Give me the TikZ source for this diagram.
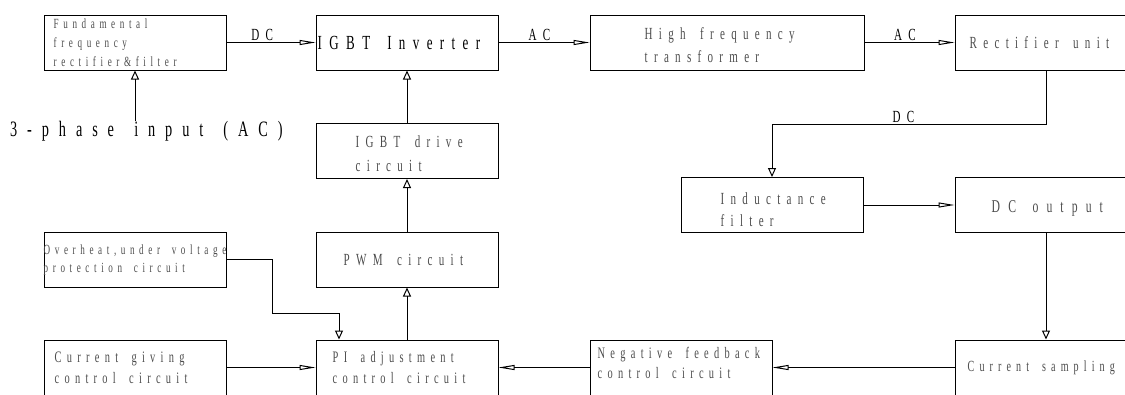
\documentclass[tikz,border=0pt]{standalone}
\usepackage{fontspec}
\newfontfamily\cadfont[FakeStretch=0.65,LetterSpace=33,WordSpace=1.7]{Liberation Serif}
\newfontfamily\cadwide[FakeStretch=0.65,LetterSpace=37,WordSpace=1.6]{Liberation Serif}
\newfontfamily\cadxwide[FakeStretch=0.65,LetterSpace=45,WordSpace=1.5]{Liberation Serif}
\usetikzlibrary{positioning, arrows.meta}
\newcommand{\cadsz}[3][\cadfont]{#1\fontsize{#2}{#3}\selectfont}

\tikzset{
  blk/.style={draw, line width=1pt, minimum width=182pt, minimum height=55pt, inner sep=0pt},
  txt/.style={anchor=west, inner sep=0pt, align=left, text=black!70},
  lbl/.style={above, inner sep=1pt, font={\cadsz[\cadwide]{17}{20}}},
  harr/.style={line width=1pt, -{Triangle[open, length=16pt, width=5pt]}},
  varr/.style={line width=1pt, -{Triangle[open, length=9pt, width=8pt]}},
  wire/.style={line width=1pt}
}

\begin{document}
\begin{tikzpicture}[x=1pt, y=-1pt]
	
	\useasboundingbox (0,0) rectangle (1125,394);
	\clip (0,0) rectangle (1125,394);
	
	% Boxes
	\node[blk] (fund) at (135,42.5) {};
	\node[blk] (inv) at (407,42.5) {};
	\node[blk, minimum width=274pt] (hft) at (727,42.5) {};
	\node[blk] (rect) at (1046,42.5) {};
	\node[blk] (drv) at (407,151) {};
	\node[blk] (ind) at (772,205) {};
	\node[blk] (dco) at (1046,205) {};
	\node[blk] (ovh) at (135,259.5) {};
	\node[blk] (pwm) at (407,259.5) {};
	\node[blk] (cgc) at (135,367.5) {};
	\node[blk] (pi) at (407,367.5) {};
	\node[blk] (nfb) at (681,367.5) {};
	\node[blk] (cs) at (1046,367.5) {};
	
	% Texts in boxes
	\node[txt, font={\cadsz{14}{19}}, xshift=10] (fund-t) at (fund.west) {Fundamental\\frequency\\rectifier\&filter};
	\node[txt, font={\cadsz[\cadwide]{20}{24}}, xshift=2, text=black] (inv-t) at (inv.west) {IGBT Inverter};
	\node[txt, font={\cadsz[\cadwide]{17}{23}}, xshift=55, yshift=-3] (hft-t) at (hft.west) {High frequency\\transformer};
	\node[txt, font={\cadsz[\cadwide]{17}{22}}, xshift=15] (rect-t) at (rect.west) {Rectifier unit};
	\node[txt, font={\cadsz[\cadwide]{17}{24}}, xshift=40, yshift=-3] (drv-t) at (drv.west) {IGBT drive\\circuit};
	\node[txt, font={\cadsz[\cadwide]{17}{22}}, xshift=40, yshift=-5] (ind-t) at (ind.west) {Inductance\\filter};
	\node[txt, font={\cadsz[\cadxwide]{18}{22}}, xshift=37, yshift=-3] (dco-t) at (dco.west) {DC output};
	\node[txt, font={\cadsz{14}{18}}, xshift=0, yshift=-1] (ovh-t) at (ovh.west) {Overheat,under voltage\\protection circuit};
	\node[txt, font={\cadsz[\cadwide]{17}{22}}, xshift=28] (pwm-t) at (pwm.west) {PWM circuit};
	\node[txt, font={\cadsz{16}{21}}, xshift=11] (cgc-t) at (cgc.west) {Current giving\\control circuit};
	\node[txt, font={\cadsz{16}{21}}, xshift=17] (pi-t) at (pi.west) {PI adjustment\\control circuit};
	\node[txt, font={\cadsz{16}{20}}, xshift=8, yshift=5] (nfb-t) at (nfb.west) {Negative feedback\\control circuit};
	\node[txt, font={\cadsz{15.5}{22}}, xshift=13] (cs-t) at (cs.west) {Current sampling};
	
	% Input
	\node[txt, font={\cadsz[\cadxwide]{22}{26}}, text=black] (inp) at (10,131) {3-phase input (AC)};
	\draw[varr] (inp.north -| fund.south) -- (fund.south);
	
	% Power path
	\draw[harr] (fund.east) -- (inv.west) node[lbl, pos=0.4] {DC};
	\draw[harr] (inv.east) -- (hft.west) node[lbl, pos=0.45] {AC};
	\draw[harr] (hft.east) -- (rect.west) node[lbl, pos=0.45] {AC};
	\draw[varr] (rect.south) -- ++(0,54) -| (ind.north) node[lbl, pos=0.26] {DC};
	\draw[harr] (ind.east) -- (dco.west);
	\draw[varr] (dco.south) -- (cs.north);
	
	% Feedback path
	\draw[harr] (cs.west) -- (nfb.east);
	\draw[harr] (nfb.west) -- (pi.east);
	\draw[harr] (cgc.east) -- (pi.west);
	\draw[varr] (ovh.east) -| (272,313) -| ([xshift=-68]pi.north);
	\draw[varr] (pi.north) -- (pwm.south);
	\draw[varr] (pwm.north) -- (drv.south);
	\draw[varr] (drv.north) -- (inv.south);
	
\end{tikzpicture}
\end{document}
